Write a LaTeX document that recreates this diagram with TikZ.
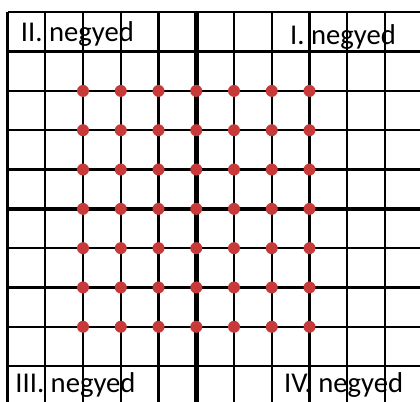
\documentclass[tikz,border=0pt]{standalone}
\usepackage{fontspec}
\setmainfont{Carlito}
\definecolor{pontpiros}{RGB}{200,58,58}
\tikzset{
  racs/.style={line width=1.7pt,black},
  tengely/.style={line width=3.4pt,black},
  felirat/.style={font=\fontsize{21.5}{21.5}\selectfont,inner sep=0pt,anchor=base west}
}
\begin{document}
\begin{tikzpicture}[x=28.31pt,y=29.48pt]
\useasboundingbox (-5.199,-4.891) rectangle (5.927,5.313);
\begin{scope}
\clip (-5.199,-4.891) rectangle (5.927,5.313);
% racsvonalak
\foreach \i in {-5,...,6}
  \draw[racs] (\i,5) -- (\i,-5.2);
\foreach \j in {-4,...,5}
  \draw[racs] (-5,\j) -- (6.2,\j);
% tengelyek
\draw[tengely] (0,5) -- (0,-5.2);
\draw[tengely] (-5,0) -- (6.2,0);
% pontok
\foreach \i in {-3,...,3}
  \foreach \j in {-3,...,3}
    \fill[pontpiros] (\i,\j) circle[radius=4.5pt];
\end{scope}
% negyedek
\node[felirat] (masodik) at (-4.65,4.25) {II. negyed};
\node[felirat] (elso) at (2.48,4.19) {I. negyed};
\node[felirat] (harmadik) at (-4.8,-4.66) {III. negyed};
\node[felirat] (negyedik) at (2.32,-4.66) {IV. negyed};
\end{tikzpicture}
\end{document}
